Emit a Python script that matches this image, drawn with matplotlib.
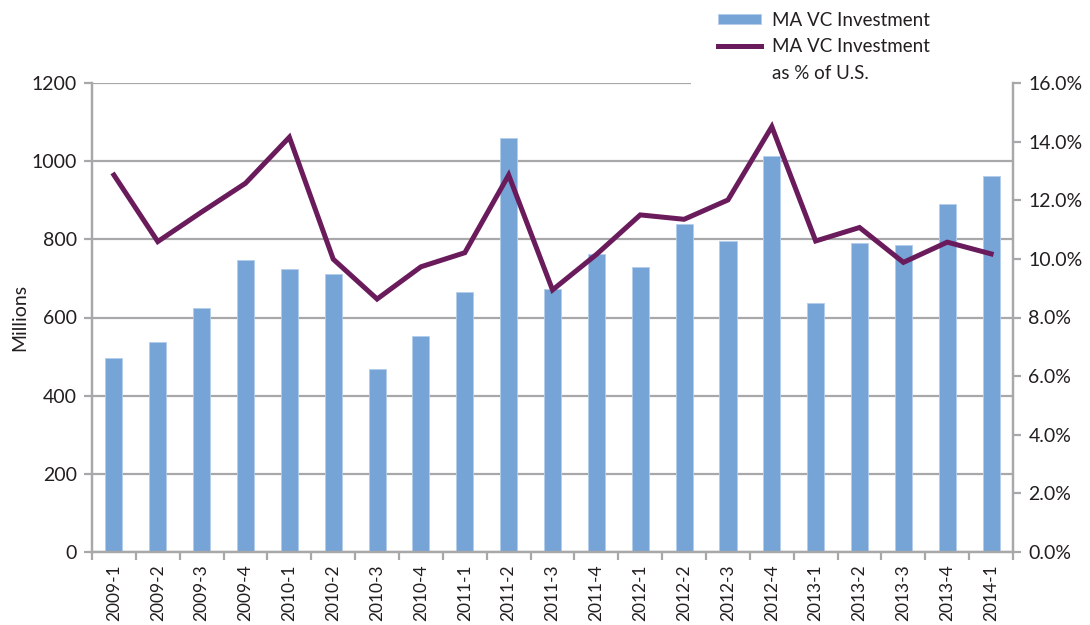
import matplotlib.pyplot as plt
import numpy as np
from matplotlib.patches import Rectangle
from matplotlib.lines import Line2D
from matplotlib.ticker import FuncFormatter

plt.rcParams['font.family'] = ['Lato', 'DejaVu Sans']

quarters = ['2009-1', '2009-2', '2009-3', '2009-4', '2010-1', '2010-2', '2010-3',
            '2010-4', '2011-1', '2011-2', '2011-3', '2011-4', '2012-1', '2012-2',
            '2012-3', '2012-4', '2013-1', '2013-2', '2013-3', '2013-4', '2014-1']
investment = [497, 538, 625, 747, 724, 712, 468, 552, 664, 1058, 673, 762, 729, 838,
              797, 1014, 636, 790, 785, 891, 961]
pct_of_us = [12.86, 10.59, 11.6, 12.58, 14.15, 9.99, 8.63, 9.73, 10.21, 12.86, 8.94,
             10.15, 11.5, 11.35, 12.01, 14.51, 10.61, 11.07, 9.88, 10.57, 10.17]

bar_col = '#76A4D6'
line_col = '#6A1B5C'
grid_col = '#A8A8AA'
txt_col = '#231F20'

fig = plt.figure(figsize=(10.9, 6.25), dpi=100)
ax = fig.add_axes([0.0844, 0.1168, 0.845, 0.7504])
ax2 = ax.twinx()

x = np.arange(len(quarters))
bars = ax.bar(x, investment, width=0.39, color=bar_col, edgecolor='#B3CDEB', linewidth=0.6, zorder=2)
line, = ax2.plot(x, pct_of_us, color=line_col, linewidth=3.6, solid_joinstyle='miter', zorder=3)

ax.set_xlim(-0.5, len(quarters) - 0.5)
ax.set_ylim(0, 1200)
ax2.set_ylim(0, 16)
ax.set_yticks(np.arange(0, 1201, 200))
ax2.set_yticks(np.arange(0, 16.1, 2))
ax2.yaxis.set_major_formatter(FuncFormatter(lambda v, p: '%.1f%%' % v))

ax.set_axisbelow(True)
ax.yaxis.grid(True, color=grid_col, linewidth=1.6)
# white block hiding the top gridline behind the legend
ax.add_patch(Rectangle((0.65, 0.985), 0.36, 0.04, transform=ax.transAxes,
                       facecolor='white', edgecolor='none', clip_on=False, zorder=1))

ax.set_xticks(x)
ax.set_xticklabels(quarters, rotation=90)
ax.set_xticks(np.arange(-0.5, len(quarters), 1), minor=True)
ax.tick_params(axis='x', which='major', length=0, pad=9, labelsize=12.5, colors=txt_col)
ax.tick_params(axis='x', which='minor', length=6, width=1.6, color=grid_col)
ax.tick_params(axis='y', length=6, width=1.6, color=grid_col, labelsize=14, labelcolor=txt_col, pad=5)
ax2.tick_params(axis='y', length=6, width=1.6, color=grid_col, labelsize=14, labelcolor=txt_col, pad=5)

for a in (ax, ax2):
    a.spines['top'].set_visible(False)
    for s in ('left', 'right', 'bottom'):
        a.spines[s].set_color(grid_col)
        a.spines[s].set_linewidth(1.6)

ax.set_ylabel('Millions', fontsize=14, color=txt_col, labelpad=2)

blank = Line2D([], [], color='none')
fig.legend([bars, line, blank], ['MA VC Investment', 'MA VC Investment', 'as % of U.S.'],
           loc='upper left', bbox_to_anchor=(0.643, 1.008), frameon=False, fontsize=13.5,
           handlelength=2.3, handleheight=0.45, handletextpad=0.6, labelspacing=0.5,
           labelcolor=txt_col)

fig.savefig('out.png', dpi=100)
